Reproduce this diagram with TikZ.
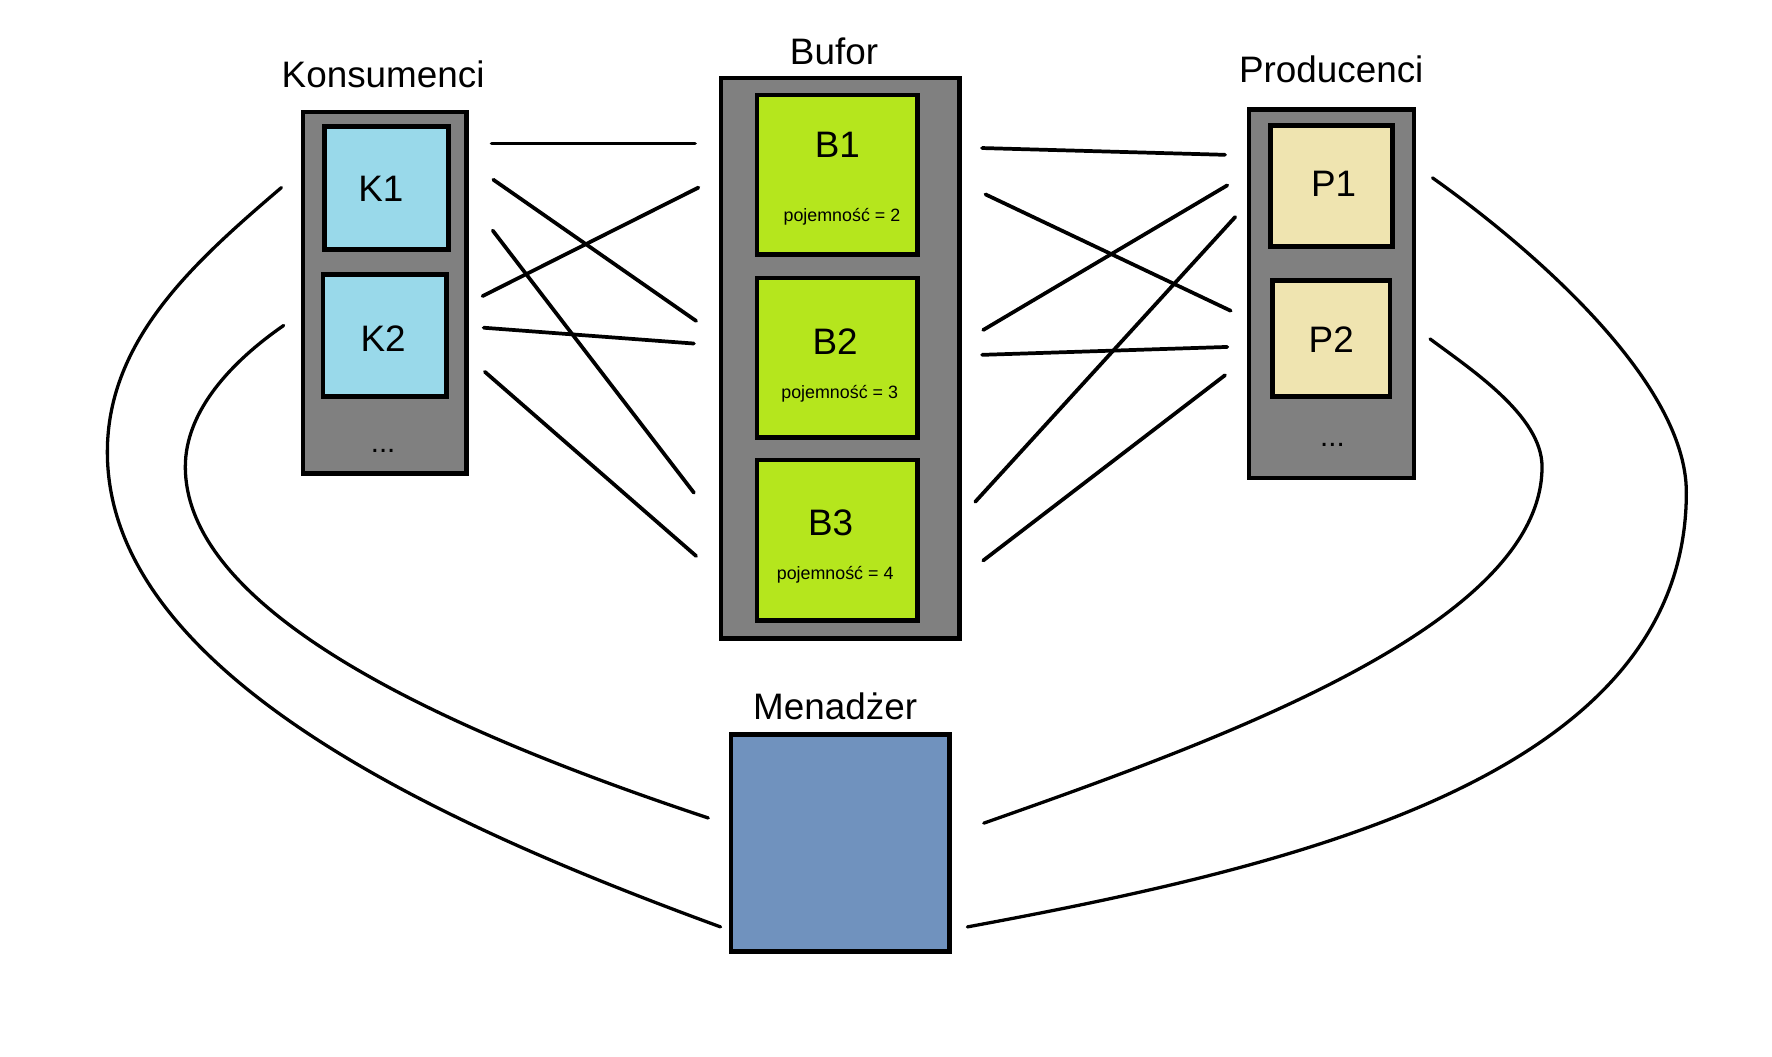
\documentclass[tikz,border=0pt]{standalone}
\usepackage{fontspec}
\setmainfont{Liberation Sans}
\definecolor{boxgray}{RGB}{128,128,128}
\definecolor{kblue}{RGB}{153,217,234}
\definecolor{blime}{RGB}{181,230,29}
\definecolor{pcream}{RGB}{239,228,176}
\definecolor{mblue}{RGB}{112,146,190}
\begin{document}
\begin{tikzpicture}[x=0.5pt,y=-0.5pt,
  container/.style={draw=black,fill=boxgray,line width=2pt,inner sep=0pt,outer sep=0pt},
  item/.style={draw=black,line width=2pt,inner sep=0pt,outer sep=0pt},
  big/.style={font=\fontsize{16.3}{18}\selectfont,inner sep=0pt,anchor=base},
  small/.style={font=\fontsize{7.9}{9}\selectfont,inner sep=0pt,anchor=base},
  dotsty/.style={font=\fontsize{13}{14}\selectfont,inner sep=0pt,anchor=base},
  wire/.style={line width=1.65pt,line cap=round},
  loopline/.style={line width=1.45pt,line cap=round}]
\useasboundingbox (0,0) rectangle (1568,935);

% containers
\node[container,minimum width=72.5pt,minimum height=160pt] (kons) at (340.5,259) {};
\node[container,minimum width=105.5pt,minimum height=248pt] (buf) at (743.5,317) {};
\node[container,minimum width=73pt,minimum height=163pt] (prod) at (1178,260) {};

% items
\node[item,fill=kblue,minimum width=55pt,minimum height=54.5pt] (k1) at (342,166.5) {};
\node[item,fill=kblue,minimum width=54.5pt,minimum height=54pt] (k2) at (340.5,297) {};
\node[item,fill=blime,minimum width=71pt,minimum height=70.5pt] (b1) at (741,154.5) {};
\node[item,fill=blime,minimum width=71pt,minimum height=70.5pt] (b2) at (741,316.5) {};
\node[item,fill=blime,minimum width=71pt,minimum height=71pt] (b3) at (741,478) {};
\node[item,fill=pcream,minimum width=54pt,minimum height=53.5pt] (p1) at (1178,164.5) {};
\node[item,fill=pcream,minimum width=52pt,minimum height=51.5pt] (p2) at (1178,299.5) {};
\node[item,fill=mblue,minimum width=96.5pt,minimum height=96pt] (men) at (743.5,746) {};

% titles
\node[big] (tk) at (339,77.7) {Konsumenci};
\node[big] (tb) at (738,56.7) {Bufor};
\node[big] (tp) at (1178,72.7) {Producenci};
\node[big] (tm) at (739,636.7) {Menadżer};

% item labels
\node[big] (lk1) at (337,178.7) {K1};
\node[big] (lk2) at (339,310.7) {K2};
\node[dotsty] (dk) at (339,400) {...};
\node[big] (lb1) at (741,139.7) {B1};
\node[small] (cb1) at (745,196) {pojemność = 2};
\node[big] (lb2) at (739,313.7) {B2};
\node[small] (cb2) at (743,353) {pojemność = 3};
\node[big] (lb3) at (735,473.7) {B3};
\node[small] (cb3) at (739,513) {pojemność = 4};
\node[big] (lp1) at (1180,173.7) {P1};
\node[big] (lp2) at (1178,311.7) {P2};
\node[dotsty] (dp) at (1179,395) {...};

% left wire ends
\coordinate (la1) at (435,127);   \coordinate (lb1e) at (615,127);
\coordinate (la2) at (436.5,159); \coordinate (lb2e) at (616,284);
\coordinate (la3) at (436,204);   \coordinate (lb3e) at (614,436);
\coordinate (la4) at (427,262);   \coordinate (lb4e) at (618,166);
\coordinate (la5) at (428,290);   \coordinate (lb5e) at (614,304);
\coordinate (la6) at (429,329);   \coordinate (lb6e) at (616,492);
% right wire ends
\coordinate (ra1) at (869,131);   \coordinate (rb1) at (1084,137);
\coordinate (ra2) at (872,172);   \coordinate (rb2) at (1089,275);
\coordinate (ra3) at (870,292);   \coordinate (rb3) at (1086,164);
\coordinate (ra4) at (863,444);   \coordinate (rb4) at (1093,192);
\coordinate (ra5) at (869,314);   \coordinate (rb5) at (1086,307);
\coordinate (ra6) at (870,496);   \coordinate (rb6) at (1084,332);

\draw[wire] (la1) -- (lb1e);
\draw[wire] (la2) -- (lb2e);
\draw[wire] (la3) -- (lb3e);
\draw[wire] (la4) -- (lb4e);
\draw[wire] (la5) -- (lb5e);
\draw[wire] (la6) -- (lb6e);
\draw[wire] (ra1) -- (rb1);
\draw[wire] (ra2) -- (rb2);
\draw[wire] (ra3) -- (rb3);
\draw[wire] (ra4) -- (rb4);
\draw[wire] (ra5) -- (rb5);
\draw[wire] (ra6) -- (rb6);

% loop ends
\coordinate (olS) at (249,166);   \coordinate (olM) at (95,400);    \coordinate (olE) at (637.6,820.2);
\coordinate (ilS) at (251,288);   \coordinate (ilM) at (164,413);   \coordinate (ilE) at (626.7,723.8);
\coordinate (orS) at (1267.6,157.4); \coordinate (orM) at (1492.2,435.7); \coordinate (orE) at (856,820.2);
\coordinate (irS) at (1265.4,299.9); \coordinate (irM) at (1364.5,413);   \coordinate (irE) at (870.5,728.4);

\draw[loopline] (olS) .. controls (173,231) and (95,300) .. (olM)
                      .. controls (95,600) and (402.8,734.2) .. (olE);
\draw[loopline] (ilS) .. controls (205.8,319.3) and (164,363) .. (ilM)
                      .. controls (164,553) and (436.9,660.6) .. (ilE);
\draw[loopline] (orS) .. controls (1349.2,215.2) and (1492.2,335.7) .. (orM)
                      .. controls (1492.2,685.7) and (1150.9,765.6) .. (orE);
\draw[loopline] (irS) .. controls (1301.4,326.8) and (1364.5,368) .. (irM)
                      .. controls (1364.5,553) and (1078,655.4) .. (irE);
\end{tikzpicture}
\end{document}
